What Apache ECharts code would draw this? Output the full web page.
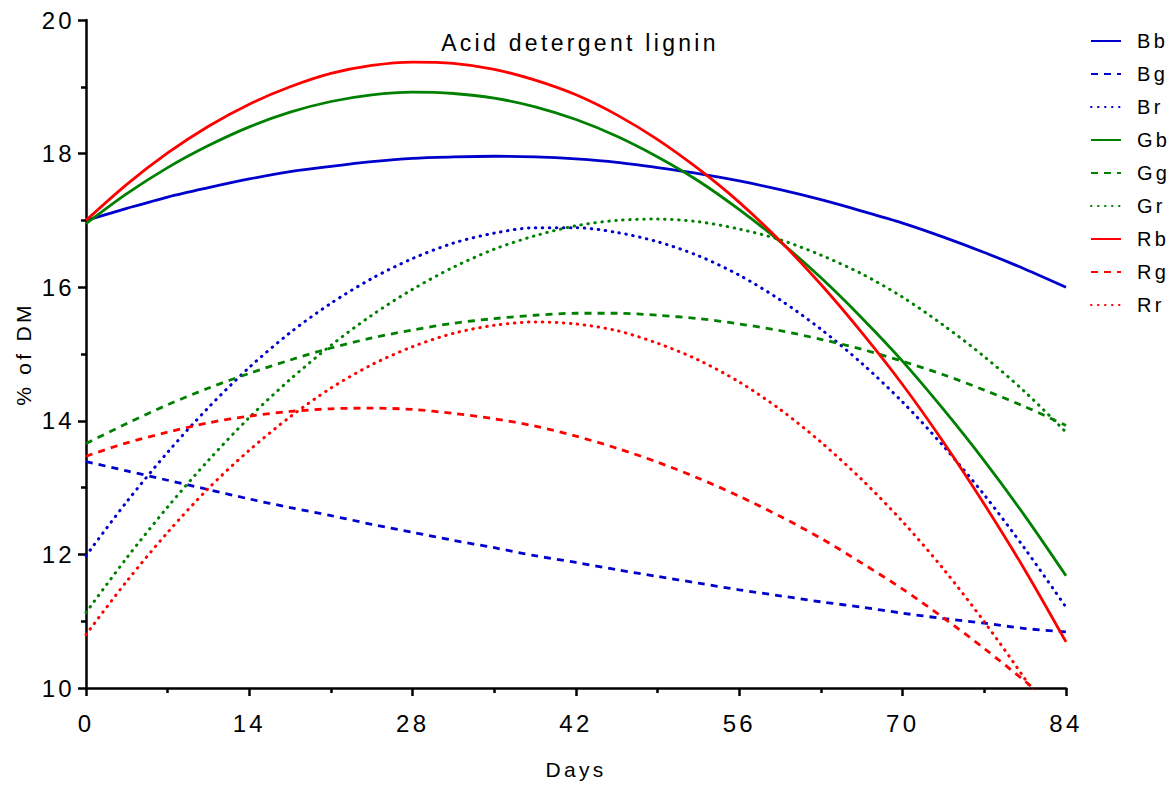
<!DOCTYPE html>
<html>
<head>
<meta charset="utf-8">
<script src="https://cdn.jsdelivr.net/npm/echarts@6/dist/echarts.min.js"></script>
<style>
  html, body { margin: 0; padding: 0; background: #fff; }
  #chart { width: 1171px; height: 785px; }
  /* GraphPad-style letter spacing on every label */
  #chart text { letter-spacing: 3.3px; }
</style>
</head>
<body>
<div id="chart"></div>
<script>
const days = [0, 3.5, 7, 10.5, 14, 17.5, 21, 24.5, 28, 31.5, 35, 38.5, 42, 45.5, 49, 52.5, 56, 59.5, 63, 66.5, 70, 73.5, 77, 80.5, 84];

const Bb = [17.0, 17.18, 17.35, 17.49, 17.62, 17.73, 17.81, 17.88, 17.93, 17.95, 17.96, 17.95, 17.92, 17.87, 17.79, 17.7, 17.59, 17.46, 17.31, 17.14, 16.96, 16.75, 16.52, 16.27, 16.0];
const Bg = [13.39, 13.25, 13.11, 12.97, 12.83, 12.7, 12.58, 12.45, 12.33, 12.21, 12.1, 11.98, 11.88, 11.77, 11.67, 11.57, 11.47, 11.38, 11.29, 11.21, 11.12, 11.04, 10.97, 10.89, 10.84];
const Br = [11.98, 12.79, 13.53, 14.2, 14.8, 15.32, 15.76, 16.13, 16.43, 16.66, 16.81, 16.89, 16.89, 16.82, 16.68, 16.47, 16.18, 15.81, 15.37, 14.86, 14.28, 13.62, 12.89, 12.08, 11.21];
const Gb = [16.95, 17.4, 17.79, 18.12, 18.4, 18.62, 18.78, 18.88, 18.92, 18.9, 18.83, 18.7, 18.51, 18.26, 17.95, 17.59, 17.16, 16.68, 16.14, 15.54, 14.89, 14.17, 13.4, 12.57, 11.68];
const Gg = [13.66, 13.96, 14.24, 14.49, 14.71, 14.91, 15.09, 15.24, 15.36, 15.46, 15.53, 15.58, 15.61, 15.61, 15.58, 15.53, 15.45, 15.35, 15.22, 15.07, 14.89, 14.69, 14.46, 14.21, 13.93];
const Gr = [11.13, 11.95, 12.71, 13.41, 14.05, 14.62, 15.13, 15.58, 15.97, 16.3, 16.57, 16.77, 16.92, 17.0, 17.02, 16.98, 16.87, 16.71, 16.48, 16.2, 15.85, 15.43, 14.96, 14.43, 13.83];
const Rb = [17.0, 17.54, 18.01, 18.41, 18.74, 19.0, 19.2, 19.32, 19.37, 19.35, 19.26, 19.1, 18.88, 18.58, 18.21, 17.77, 17.27, 16.69, 16.04, 15.32, 14.54, 13.68, 12.75, 11.76, 10.69];
const Rg = [13.47, 13.67, 13.83, 13.97, 14.07, 14.14, 14.18, 14.19, 14.17, 14.11, 14.03, 13.92, 13.77, 13.59, 13.38, 13.14, 12.87, 12.57, 12.24, 11.87, 11.48, 11.05, 10.59, 10.1, 9.58];
const Rr = [10.8, 11.6, 12.33, 12.99, 13.56, 14.06, 14.49, 14.84, 15.11, 15.31, 15.43, 15.48, 15.45, 15.35, 15.16, 14.91, 14.58, 14.17, 13.68, 13.12, 12.49, 11.78, 10.99, 10.13, 9.19];

const xTicks = [0, 14, 28, 42, 56, 70, 84];
const yTicks = [10, 12, 14, 16, 18, 20];

const BLUE = "#0000cc";
const GREEN = "#008000";
const RED = "#ff0000";
const FONT = "Liberation Sans";

const dashes = {
  solid: { type: "solid", cap: "butt" },
  dashed: { type: [7, 6], cap: "butt" },
  dotted: { type: [0.5, 6.5], cap: "round" },
};

const seriesDefs = [
  { name: "Bb", data: Bb, color: BLUE, style: "solid" },
  { name: "Bg", data: Bg, color: BLUE, style: "dashed" },
  { name: "Br", data: Br, color: BLUE, style: "dotted" },
  { name: "Gb", data: Gb, color: GREEN, style: "solid" },
  { name: "Gg", data: Gg, color: GREEN, style: "dashed" },
  { name: "Gr", data: Gr, color: GREEN, style: "dotted" },
  { name: "Rb", data: Rb, color: RED, style: "solid" },
  { name: "Rg", data: Rg, color: RED, style: "dashed" },
  { name: "Rr", data: Rr, color: RED, style: "dotted" },
];

const chart = echarts.init(document.getElementById("chart"), null, { renderer: "svg" });

const options = {
  animation: false,
  textStyle: { fontFamily: FONT, color: "#000" },
  title: {
    text: "Acid detergent lignin",
    left: 575,
    textAlign: "center",
    top: 26,
    textStyle: { fontFamily: FONT, fontSize: 23, fontWeight: "normal", color: "#000" },
  },
  grid: { left: 86, right: 105, top: 20, bottom: 92, containLabel: false },
  legend: {
    orient: "vertical",
    left: 1090,
    top: 31,
    padding: 0,
    itemWidth: 30,
    itemHeight: 20,
    itemGap: 13,
    itemStyle: { opacity: 0 },
    textStyle: { fontFamily: FONT, fontSize: 20, color: "#000", padding: [0, 0, 0, 11] },
    data: seriesDefs.map((s) => s.name),
  },
  xAxis: {
    type: "value",
    min: 0,
    max: 84,
    interval: 14,
    name: "Days",
    nameLocation: "middle",
    nameGap: 71,
    nameTextStyle: { fontFamily: FONT, fontSize: 21, color: "#000" },
    axisLine: { onZero: false, lineStyle: { color: "#000", width: 2.5 } },
    axisTick: { length: 8, lineStyle: { color: "#000", width: 2.5 } },
    minorTick: { show: true, splitNumber: 2, length: 5, lineStyle: { color: "#000", width: 2.5 } },
    splitLine: { show: false },
    axisLabel: {
      margin: 23,
      fontSize: 24,
      fontFamily: FONT,
      color: "#000",
      formatter: (v) => (xTicks.includes(v) ? String(v) : ""),
    },
  },
  yAxis: {
    type: "value",
    min: 10,
    max: 20,
    interval: 2,
    name: "% of DM",
    nameLocation: "middle",
    nameGap: 52,
    nameTextStyle: { fontFamily: FONT, fontSize: 21, color: "#000" },
    axisLine: { onZero: false, lineStyle: { color: "#000", width: 2.5 } },
    axisTick: { length: 8, lineStyle: { color: "#000", width: 2.5 } },
    minorTick: { show: true, splitNumber: 2, length: 5, lineStyle: { color: "#000", width: 2.5 } },
    splitLine: { show: false },
    axisLabel: {
      margin: 11,
      fontSize: 24,
      fontFamily: FONT,
      color: "#000",
      formatter: (v) => (yTicks.includes(v) ? String(v) : ""),
    },
  },
  series: seriesDefs.map((s) => ({
    name: s.name,
    type: "line",
    data: days.map((d, i) => [d, s.data[i]]),
    smooth: 0.3,
    showSymbol: false,
    symbol: "none",
    clip: true,
    color: s.color,
    lineStyle: Object.assign(
      { color: s.color, width: s.style === "dotted" ? 3 : 2.8 },
      dashes[s.style]
    ),
  })),
};

chart.setOption(options);
</script>
</body>
</html>
